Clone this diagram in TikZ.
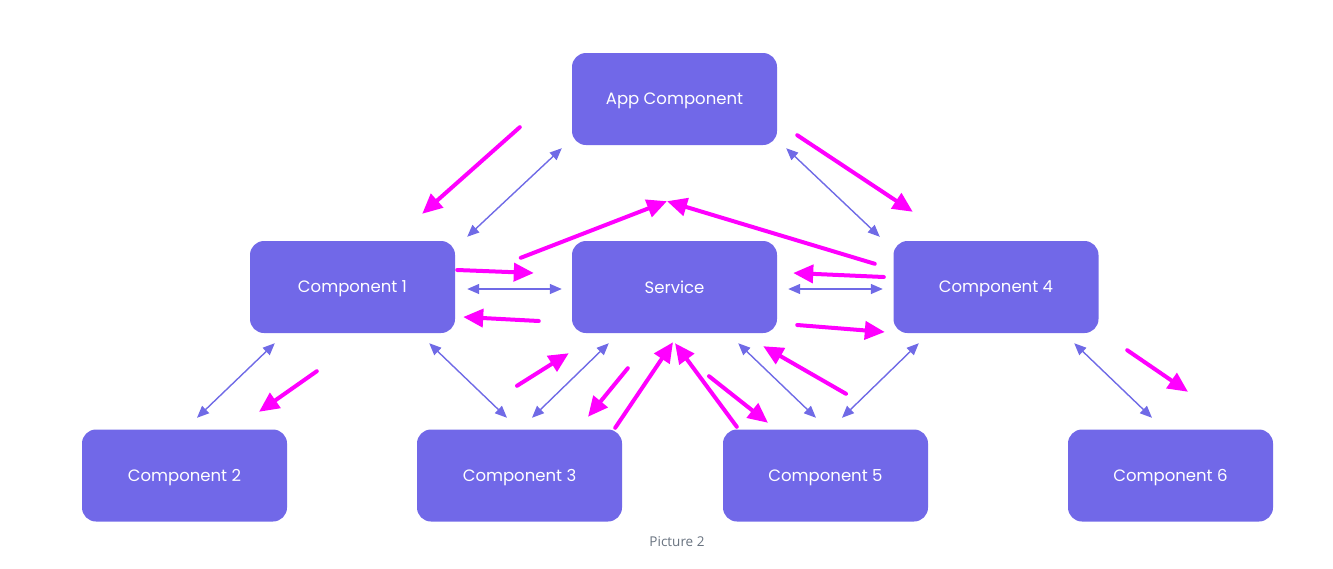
\documentclass[tikz,border=0pt]{standalone}
\usepackage{fontspec}
\setmainfont{Poppins}
\newfontfamily\capfont{Open Sans}
\usetikzlibrary{arrows.meta}
\definecolor{boxblue}{RGB}{113,104,232}
\definecolor{linkblue}{RGB}{112,106,230}
\definecolor{hotpink}{RGB}{255,0,255}
\definecolor{capgray}{RGB}{105,115,128}
\tikzset{
    comp/.style = {fill=boxblue, rounded corners=14pt, minimum width=205pt, minimum height=92pt, text=white, text depth=0pt, font=\fontsize{16.5}{19}\selectfont},
    call/.style = {draw=hotpink, line width=4pt, line cap=round, -{Triangle[length=20pt,width=18pt]}},
    dep/.style = {draw=linkblue, line width=1.4pt, {Triangle[length=12pt,width=10pt]}-{Triangle[length=12pt,width=10pt]}},
    caption/.style = {text=capgray, font=\capfont\fontsize{13.5}{16}\selectfont}
}

\begin{document}
\begin{tikzpicture}[x=1pt, y=-1pt]
    \useasboundingbox (0,0) rectangle (1333,568);
    \node[comp] (app) at (674.5,99) {App Component};
    \node[comp] (c1) at (352.5,287) {Component 1};
    \node[comp] (svc) at (674.5,287) {Service};
    \node[comp] (c4) at (996,287) {Component 4};
    \node[comp] (c2) at (184.5,475.5) {Component 2};
    \node[comp] (c3) at (519.5,475.5) {Component 3};
    \node[comp] (c5) at (825.5,475.5) {Component 5};
    \node[comp] (c6) at (1170.5,475.5) {Component 6};
    \node[caption] (cap) at (677,542) {Picture 2};
    \coordinate (meet) at ([shift={(-7.5,56)}]app.south);

    \draw[call] ([shift={(-52,-18)}]app.south west) -- ([shift={(-33,-27)}]c1.north east);
    \draw[dep] ([shift={(-10,3)}]app.south west) -- ([shift={(12,-4)}]c1.north east);
    \draw[call] ([shift={(20,-10)}]app.south east) -- ([shift={(19.5,-29)}]c4.north west);
    \draw[dep] ([shift={(9,3)}]app.south east) -- ([shift={(-13.5,-4)}]c4.north west);
    \draw[call] ([shift={(-51,17)}]svc.north west) -- (meet);
    \draw[call] ([shift={(-18.5,23)}]c4.north west) -- (meet);

    \draw[call] ([shift={(2,-17)}]c1.east) -- ([shift={(-38,-14)}]svc.west);
    \draw[dep] ([shift={(12,2)}]c1.east) -- ([shift={(-10,2)}]svc.west);
    \draw[call] ([shift={(-33,34)}]svc.west) -- ([shift={(8,30)}]c1.east);
    \draw[call] ([shift={(-9.5,-10)}]c4.west) -- ([shift={(16,-14)}]svc.east);
    \draw[dep] ([shift={(11,2)}]svc.east) -- ([shift={(-10.5,2)}]c4.west);
    \draw[call] ([shift={(20,38)}]svc.east) -- ([shift={(-8.5,45)}]c4.west);

    \draw[dep] ([shift={(25,10)}]c1.south west) -- ([shift={(12.5,-11.5)}]c2.north);
    \draw[call] ([shift={(67,38)}]c1.south west) -- ([shift={(74.5,-17.5)}]c2.north);
    \draw[dep] ([shift={(-26,10)}]c1.south east) -- ([shift={(-12.5,-11.5)}]c3.north);
    \draw[call] ([shift={(-2.5,-43.5)}]c3.north) -- ([shift={(-3,20)}]svc.south west);
    \draw[dep] ([shift={(37,10)}]svc.south west) -- ([shift={(12.5,-11.5)}]c3.north);
    \draw[call] ([shift={(56,35)}]svc.south west) -- ([shift={(68.5,-12.5)}]c3.north);
    \draw[call] ([shift={(-7,-1.5)}]c3.north east) -- ([shift={(-1.5,9)}]svc.south);
    \draw[call] ([shift={(14,-2.5)}]c5.north west) -- ([shift={(0.5,10)}]svc.south);
    \draw[call] ([shift={(34.5,43)}]svc.south) -- ([shift={(-57.5,-6.5)}]c5.north);
    \draw[dep] ([shift={(-39,10)}]svc.south east) -- ([shift={(-9.5,-11.5)}]c5.north);
    \draw[call] ([shift={(20.5,-35.5)}]c5.north) -- ([shift={(-14,13)}]svc.south east);
    \draw[dep] ([shift={(25.5,10)}]c4.south west) -- ([shift={(16.5,-11.5)}]c5.north);
    \draw[dep] ([shift={(-24.5,10)}]c4.south east) -- ([shift={(-18.5,-11.5)}]c6.north);
    \draw[call] ([shift={(28.5,17)}]c4.south east) -- ([shift={(17.5,-37.5)}]c6.north);
\end{tikzpicture}
\end{document}
